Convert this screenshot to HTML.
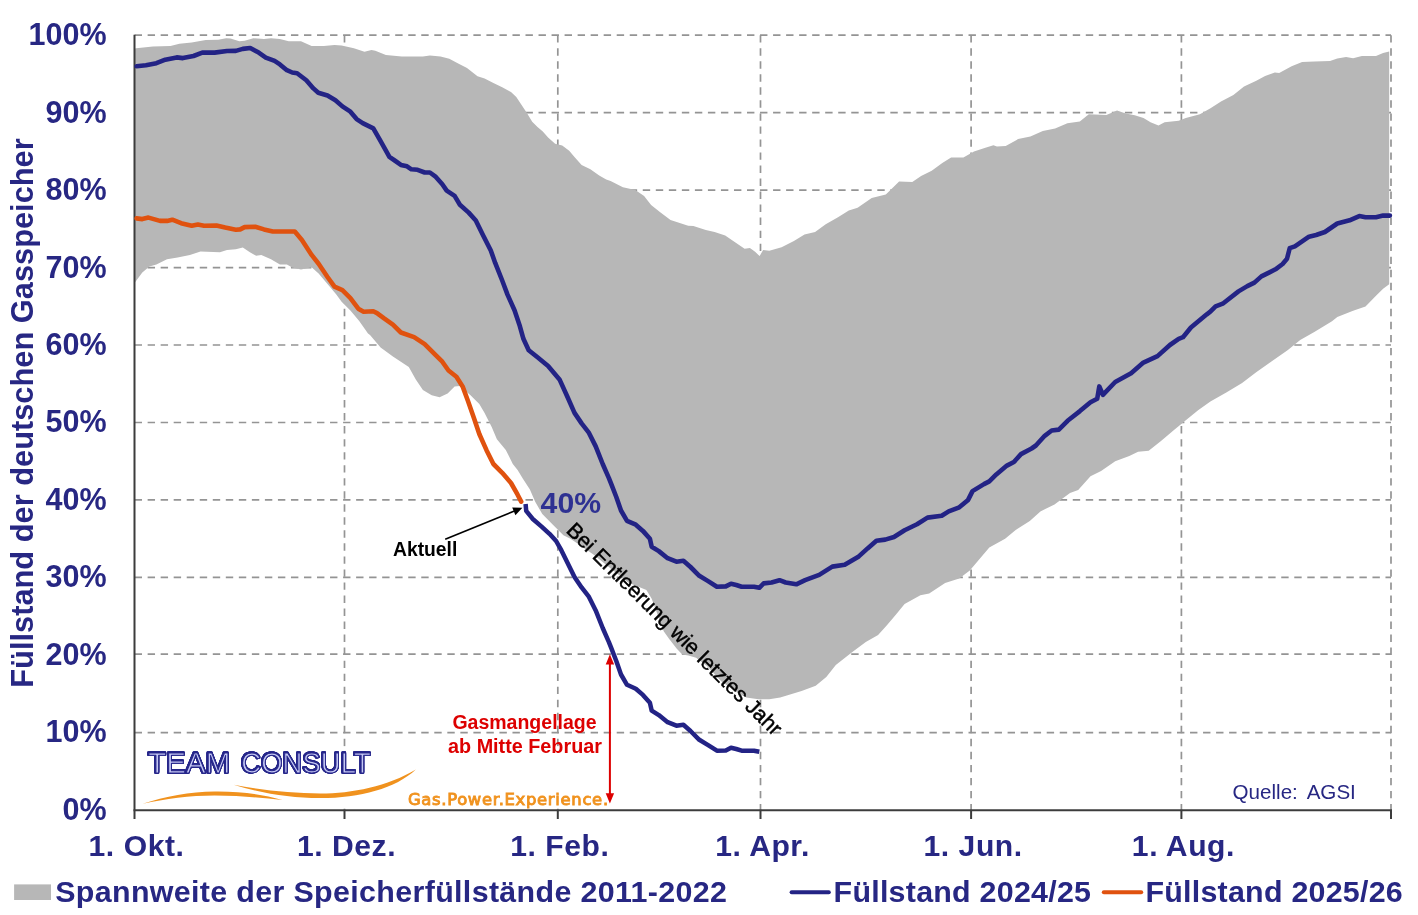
<!DOCTYPE html>
<html lang="de"><head><meta charset="utf-8"><title>Füllstand der deutschen Gasspeicher</title>
<style>
html,body{margin:0;padding:0;background:#fff;}
body{width:1418px;height:915px;overflow:hidden;}
svg{display:block;}
text{font-family:"Liberation Sans",sans-serif;}
.b{font-weight:bold;}
.ax{font-size:30.1px;font-weight:bold;fill:#272783;letter-spacing:0.55px;}
.lg{font-size:30.4px;font-weight:bold;fill:#272783;letter-spacing:0.25px;}
</style></head><body>
<svg width="1418" height="915" viewBox="0 0 1418 915">
<rect width="1418" height="915" fill="#fff"/>
<g stroke="#949494" stroke-width="1.7" stroke-dasharray="7.4 5.63" fill="none">
<line x1="134.6" y1="732.6" x2="1391.0" y2="732.6"/>
<line x1="134.6" y1="654.1" x2="1391.0" y2="654.1"/>
<line x1="134.6" y1="577.4" x2="1391.0" y2="577.4"/>
<line x1="134.6" y1="499.9" x2="1391.0" y2="499.9"/>
<line x1="134.6" y1="422.5" x2="1391.0" y2="422.5"/>
<line x1="134.6" y1="345.0" x2="1391.0" y2="345.0"/>
<line x1="134.6" y1="267.6" x2="1391.0" y2="267.6"/>
<line x1="134.6" y1="190.1" x2="1391.0" y2="190.1"/>
<line x1="134.6" y1="112.7" x2="1391.0" y2="112.7"/>
<line x1="134.6" y1="35.2" x2="1391.0" y2="35.2"/>
<line x1="344.5" y1="35.2" x2="344.5" y2="809.7"/>
<line x1="557.8" y1="35.2" x2="557.8" y2="809.7"/>
<line x1="760.5" y1="35.2" x2="760.5" y2="809.7"/>
<line x1="971.1" y1="35.2" x2="971.1" y2="809.7"/>
<line x1="1181.4" y1="35.2" x2="1181.4" y2="809.7"/>
<line x1="1391.0" y1="35.2" x2="1391.0" y2="809.7"/>
</g>
<polygon points="134.5,48.4 136.2,48.2 152.9,46.4 170.5,46.1 179.4,43.8 191.7,42.4 205.8,39.9 218.2,39.7 226.1,38.2 230.5,38.5 239.3,41.2 244.6,40.8 253.4,38.2 264.0,39.0 271.0,38.2 279.9,39.0 288.7,41.2 301.0,41.2 311.6,46.1 323.9,46.1 334.5,45.0 341.6,45.6 353.9,48.2 364.5,51.7 371.5,50.0 375.3,50.8 385.9,55.0 401.7,56.4 422.9,56.4 429.9,55.6 440.5,56.4 449.3,58.7 458.2,63.5 467.0,67.9 477.5,76.2 484.6,78.5 493.4,82.9 502.2,87.3 511.0,92.1 516.3,97.0 521.6,104.9 526.9,112.9 532.2,121.7 537.5,127.0 542.8,131.4 548.1,137.5 555.1,143.7 562.2,145.5 569.2,150.8 574.5,156.9 581.6,164.9 590.4,169.3 599.2,175.5 606.2,179.5 610.6,181.1 622.9,187.3 635.3,189.9 644.1,196.1 651.1,204.9 659.9,212.0 670.5,219.9 688.2,225.7 693.4,226.1 705.8,230.1 714.6,231.9 725.2,235.4 735.8,242.8 744.6,248.7 749.9,248.1 755.1,251.7 759.6,256.1 763.1,249.9 769.3,250.8 781.6,247.2 793.9,241.1 804.5,234.4 815.1,231.9 825.7,224.3 838.0,217.3 848.8,210.5 857.6,207.8 871.7,198.1 885.8,194.6 892.0,188.4 899.1,181.4 912.3,181.9 921.1,176.1 931.7,170.8 942.3,162.9 951.1,157.6 963.4,157.6 974.0,151.4 984.6,147.9 993.4,145.2 996.9,146.6 1005.7,146.1 1018.1,139.1 1030.4,136.4 1042.8,131.1 1055.1,128.5 1067.4,123.2 1079.8,121.4 1088.8,114.3 1106.4,114.9 1117.0,110.4 1125.8,113.4 1134.7,115.2 1143.5,117.9 1150.5,122.3 1158.5,125.4 1164.6,122.3 1178.7,120.8 1185.8,117.9 1199.9,114.3 1210.5,108.2 1221.0,101.5 1233.4,94.9 1244.0,86.6 1256.3,80.8 1265.1,76.1 1274.8,72.4 1279.2,72.9 1291.6,66.2 1302.1,62.0 1314.5,61.4 1330.0,60.9 1337.3,58.4 1346.1,57.0 1353.1,58.3 1361.9,56.1 1376.0,56.1 1383.1,53.1 1389.2,51.4 1389.2,284.3 1383.1,288.7 1376.0,295.8 1365.5,306.4 1353.1,310.8 1337.3,316.9 1332.0,321.3 1314.3,331.9 1300.2,339.9 1287.9,350.0 1270.0,362.6 1256.2,372.3 1242.1,382.9 1226.3,392.6 1210.4,401.4 1198.1,410.2 1184.0,421.7 1173.4,430.5 1161.0,441.1 1148.7,450.8 1138.1,451.7 1129.3,456.1 1115.2,461.3 1101.1,471.0 1090.5,476.3 1078.2,490.0 1070.0,492.9 1054.5,504.4 1040.4,511.4 1029.8,521.1 1015.7,529.9 1005.1,538.7 989.3,547.5 978.7,559.9 969.8,570.6 959.2,578.5 945.1,582.9 929.2,593.5 920.4,595.3 904.6,604.1 895.8,614.7 886.9,625.2 878.1,634.9 865.8,642.0 851.7,652.6 835.8,664.9 826.3,677.0 815.7,685.8 801.6,691.1 786.8,695.4 780.2,697.6 769.3,699.2 758.4,699.2 746.3,697.6 736.5,692.1 721.2,681.2 707.0,665.9 696.1,657.7 688.4,655.6 682.3,654.4 676.8,648.7 669.2,638.9 663.7,631.2 657.0,613.0 651.7,598.7 646.4,589.9 628.7,582.8 611.0,568.7 593.4,554.6 570.5,538.8 563.4,535.2 552.9,524.7 542.3,514.1 535.2,501.7 529.9,489.4 522.9,478.8 517.6,470.0 512.8,464.0 505.8,449.9 496.9,439.3 491.7,427.0 484.6,412.9 479.3,404.0 470.5,395.2 459.9,386.1 454.6,386.4 447.6,393.5 439.6,397.3 431.7,395.2 422.9,389.9 415.8,379.4 408.8,367.0 392.9,356.4 380.6,347.6 370.0,335.0 368.0,333.4 359.2,321.0 350.4,310.5 341.6,301.7 336.3,294.6 327.5,284.0 318.6,273.4 311.6,267.3 301.0,269.4 292.2,267.6 286.9,264.6 279.9,264.6 271.0,259.3 261.3,254.9 256.1,255.8 249.9,252.3 242.8,247.5 235.8,249.3 227.0,250.0 219.9,252.3 200.5,251.4 189.9,254.9 177.6,257.6 167.0,259.3 156.4,264.6 149.4,266.4 142.3,272.6 136.2,280.8 134.5,283.0" fill="#b7b7b7"/>
<rect x="135.5" y="746.5" width="473.5" height="62.2" fill="#fff"/>
<text id="logo" y="772.8" style="font-size:28.7px;fill:#c4c7f3;stroke:#26268a;stroke-width:1.0;stroke-linejoin:round;filter:drop-shadow(0.6px 0 0 #26268a) drop-shadow(-0.6px 0 0 #26268a) drop-shadow(0 0.6px 0 #26268a) drop-shadow(0 -0.6px 0 #26268a)"><tspan x="148.3" textLength="82.2" lengthAdjust="spacingAndGlyphs">TEAM</tspan> <tspan x="241.3" textLength="129.5" lengthAdjust="spacingAndGlyphs">CONSULT</tspan></text>
<path d="M142.6,803.8 C165,796.4 190,791.8 214.6,791.5 C240,791.2 262,794.2 282.4,799.9 C262,797.9 240,795.7 214.6,795.6 C190,795.6 165,799 142.6,803.8 Z" fill="#f0921e"/>
<path d="M233.6,784.7 C262,790.4 292,793.5 320.4,793.5 C352,793.5 388,786 415.8,769.4 C396,788.2 360,797.9 320.4,798.1 C292,798.2 262,793.6 233.6,784.7 Z" fill="#f0921e"/>
<text id="gpe" x="407.9" y="804.8" textLength="200.2" lengthAdjust="spacing" style="font-family:'DejaVu Sans','Liberation Sans',sans-serif;font-size:16.4px;font-weight:normal;fill:#f0921e;stroke:#f0921e;stroke-width:0.9">Gas.Power.Experience.</text>
<g stroke="#3c3c3c" stroke-width="2" fill="none">
<line x1="134.5" y1="34.7" x2="134.5" y2="819.0"/>
<line x1="133.5" y1="810.2" x2="1392.0" y2="810.2"/>
<line x1="344.5" y1="809.7" x2="344.5" y2="819.0"/>
<line x1="557.8" y1="809.7" x2="557.8" y2="819.0"/>
<line x1="760.5" y1="809.7" x2="760.5" y2="819.0"/>
<line x1="971.1" y1="809.7" x2="971.1" y2="819.0"/>
<line x1="1181.4" y1="809.7" x2="1181.4" y2="819.0"/>
<line x1="1391.0" y1="809.7" x2="1391.0" y2="819.0"/>
</g>
<polyline points="136.6,66.2 145.9,65.3 156.4,63.2 165.3,59.7 176.7,57.4 182.9,58.1 193.5,56.0 202.3,52.6 214.6,52.6 227.0,51.0 235.8,50.9 242.8,48.9 250.2,48.0 258.7,52.6 265.8,57.6 274.6,60.9 279.9,64.4 286.9,70.2 292.2,72.5 297.1,73.2 306.3,80.3 313.4,88.4 318.3,92.8 327.5,95.5 335.4,100.2 342.4,106.4 350.4,111.7 356.6,119.1 362.7,123.1 373.3,128.4 380.6,141.1 389.4,156.9 394.7,160.5 400.9,164.9 407.0,166.3 411.4,169.3 417.6,169.8 424.7,172.5 429.9,172.5 435.2,176.3 442.3,184.3 446.7,190.6 454.6,195.9 459.9,204.7 468.7,212.6 475.8,220.5 482.8,234.7 490.8,250.5 495.2,262.9 502.2,280.5 507.5,294.6 514.6,310.5 519.9,326.3 523.4,338.8 528.7,350.3 537.5,357.3 548.1,366.1 559.5,379.4 567.5,397.0 574.5,412.9 581.6,423.4 588.6,432.3 595.7,446.4 602.7,464.0 608.9,478.1 611.5,484.6 616.3,497.0 621.0,510.5 627.0,520.8 635.8,524.7 642.9,530.9 649.9,538.8 651.7,546.7 658.8,551.1 667.6,558.2 676.4,561.7 683.4,560.8 690.5,567.0 699.3,575.8 708.1,581.1 716.9,586.7 725.8,586.4 731.0,583.7 736.3,585.0 741.6,586.7 754.0,586.7 759.3,587.8 763.7,583.4 771.6,582.5 779.5,580.2 785.7,582.5 796.3,584.3 805.1,580.2 819.2,574.9 832.3,566.6 844.7,564.8 858.8,556.4 867.6,548.4 876.4,540.8 885.2,539.6 894.0,537.0 904.6,530.3 917.0,524.3 927.5,517.6 941.7,515.8 948.7,511.4 959.3,507.3 968.1,499.9 972.5,491.1 984.0,484.1 989.3,481.4 996.3,474.4 1006.9,465.6 1013.9,462.0 1021.0,454.1 1031.6,448.5 1035.9,445.5 1044.7,435.8 1051.7,430.5 1058.8,429.6 1067.6,420.8 1079.9,411.1 1090.5,402.3 1097.2,398.8 1099.3,386.4 1102.9,394.9 1115.2,382.0 1131.1,373.2 1143.4,362.6 1157.5,356.1 1169.9,345.0 1178.7,338.8 1183.0,337.2 1190.9,327.5 1206.8,314.3 1210.3,311.7 1215.6,306.4 1222.7,303.7 1238.5,291.4 1247.3,286.1 1254.4,282.6 1261.4,276.4 1275.5,269.3 1282.6,264.0 1287.0,258.8 1289.7,248.2 1294.9,246.4 1309.0,236.7 1316.1,235.0 1324.9,232.0 1337.3,223.5 1349.6,220.3 1359.3,216.1 1365.5,217.3 1376.0,217.3 1383.1,215.6 1389.9,215.6" fill="none" stroke="#232385" stroke-width="4.6" stroke-linejoin="round" stroke-linecap="round"/>
<polyline points="136.6,218.4 142.3,219.1 148.5,217.6 160.0,220.9 167.0,220.9 172.3,219.7 181.1,223.2 191.7,225.8 197.9,224.6 204.0,225.8 216.4,225.5 225.2,227.6 235.8,229.7 240.2,229.4 244.6,227.1 255.2,226.7 264.0,229.4 272.8,231.5 294.8,231.5 301.9,239.9 311.6,254.9 318.6,263.7 327.5,277.0 334.5,286.7 342.4,290.2 350.4,298.1 358.3,308.7 363.6,311.7 373.3,311.3 377.0,313.1 384.1,318.4 392.9,324.6 400.9,332.5 414.1,337.1 424.7,344.1 435.2,354.7 442.3,361.7 448.5,370.5 456.4,376.7 462.6,386.4 467.8,400.5 474.0,418.2 479.3,434.0 486.4,449.9 493.4,464.0 502.2,472.8 511.0,483.0 517.6,494.7 521.2,501.6" fill="none" stroke="#e0520f" stroke-width="4.6" stroke-linejoin="round" stroke-linecap="round"/>
<polyline points="525.6,504.0 526.2,510.8 532.5,518.7 541.6,526.6 549.5,533.8 556.1,541.0 561.3,550.2 574.5,576.9 581.6,587.4 588.6,596.3 595.7,610.4 602.7,628.0 608.9,642.1 611.5,648.6 616.3,661.0 621.0,674.5 627.0,684.8 635.8,688.7 642.9,694.9 649.9,702.8 651.7,710.7 658.8,715.1 667.6,722.2 676.4,725.7 683.4,724.8 690.5,731.0 699.3,739.8 708.1,745.1 716.9,750.7 725.8,750.4 731.0,747.7 736.3,749.0 741.6,750.7 754.0,750.7 759.3,751.8" fill="none" stroke="#232385" stroke-width="4.5" stroke-linejoin="round" stroke-linecap="butt"/>
<text class="ax" x="106.6" y="819.6" text-anchor="end" style="font-size:30.5px;letter-spacing:0">0%</text>
<text class="ax" x="106.6" y="742.1" text-anchor="end" style="font-size:30.5px;letter-spacing:0">10%</text>
<text class="ax" x="106.6" y="664.7" text-anchor="end" style="font-size:30.5px;letter-spacing:0">20%</text>
<text class="ax" x="106.6" y="587.2" text-anchor="end" style="font-size:30.5px;letter-spacing:0">30%</text>
<text class="ax" x="106.6" y="509.8" text-anchor="end" style="font-size:30.5px;letter-spacing:0">40%</text>
<text class="ax" x="106.6" y="432.4" text-anchor="end" style="font-size:30.5px;letter-spacing:0">50%</text>
<text class="ax" x="106.6" y="354.9" text-anchor="end" style="font-size:30.5px;letter-spacing:0">60%</text>
<text class="ax" x="106.6" y="277.5" text-anchor="end" style="font-size:30.5px;letter-spacing:0">70%</text>
<text class="ax" x="106.6" y="200.0" text-anchor="end" style="font-size:30.5px;letter-spacing:0">80%</text>
<text class="ax" x="106.6" y="122.6" text-anchor="end" style="font-size:30.5px;letter-spacing:0">90%</text>
<text class="ax" x="106.6" y="45.1" text-anchor="end" style="font-size:30.5px;letter-spacing:0">100%</text>
<text class="ax" x="136.5" y="855.6" text-anchor="middle">1. Okt.</text>
<text class="ax" x="346.5" y="855.6" text-anchor="middle">1. Dez.</text>
<text class="ax" x="559.8" y="855.6" text-anchor="middle">1. Feb.</text>
<text class="ax" x="762.5" y="855.6" text-anchor="middle">1. Apr.</text>
<text class="ax" x="973.1" y="855.6" text-anchor="middle">1. Jun.</text>
<text class="ax" x="1183.4" y="855.6" text-anchor="middle">1. Aug.</text>
<text class="ax" id="ytitle" transform="translate(32.8,413) rotate(-90)" text-anchor="middle" style="font-size:30.8px;letter-spacing:0">Füllstand der deutschen Gasspeicher</text>
<rect x="14.1" y="884.4" width="36.9" height="15.6" fill="#b7b7b7"/>
<text class="lg" id="lg1" x="55.2" style="letter-spacing:0.35px" y="902.1">Spannweite der Speicherfüllstände 2011-2022</text>
<line x1="791.6" y1="892.2" x2="828.8" y2="892.2" stroke="#232385" stroke-width="4" stroke-linecap="round"/>
<text class="lg" id="lg2" x="833.6" y="902.1">Füllstand 2024/25</text>
<line x1="1103.8" y1="892.2" x2="1141.2" y2="892.2" stroke="#e0520f" stroke-width="4" stroke-linecap="round"/>
<text class="lg" id="lg3" x="1145.4" y="902.1">Füllstand 2025/26</text>
<text id="p40" x="540.6" y="513" style="font-size:30.2px;font-weight:bold;fill:#2e3192">40%</text>
<text id="akt" x="393" y="555.7" style="font-size:19.3px;font-weight:bold;fill:#000">Aktuell</text>
<line x1="445.2" y1="539.2" x2="515" y2="510.8" stroke="#000" stroke-width="1.7"/>
<polygon points="522.4,507.8 515.4,515.3 512.2,507.4" fill="#000"/>
<text id="bei" transform="translate(565.3,531.5) rotate(44.6)" style="font-size:21.3px;fill:#000;stroke:#000;stroke-width:0.45">Bei Entleerung wie letztes Jahr</text>
<text id="gas1" x="524.5" y="728.6" text-anchor="middle" style="font-size:19.5px;font-weight:bold;fill:#dd0000">Gasmangellage</text>
<text id="gas2" x="525" y="752.9" text-anchor="middle" style="font-size:19.8px;font-weight:bold;fill:#dd0000">ab Mitte Februar</text>
<line x1="609.9" y1="662" x2="609.9" y2="796" stroke="#dd0000" stroke-width="2"/>
<polygon points="609.9,654.3 605.7,664.5 614.1,664.5" fill="#dd0000"/>
<polygon points="609.9,803.4 605.7,793.2 614.1,793.2" fill="#dd0000"/>
<text id="quelle" x="1232.6" y="799.3" style="font-size:20.6px;word-spacing:4.2px;fill:#272783">Quelle: AGSI</text>
</svg></body></html>
